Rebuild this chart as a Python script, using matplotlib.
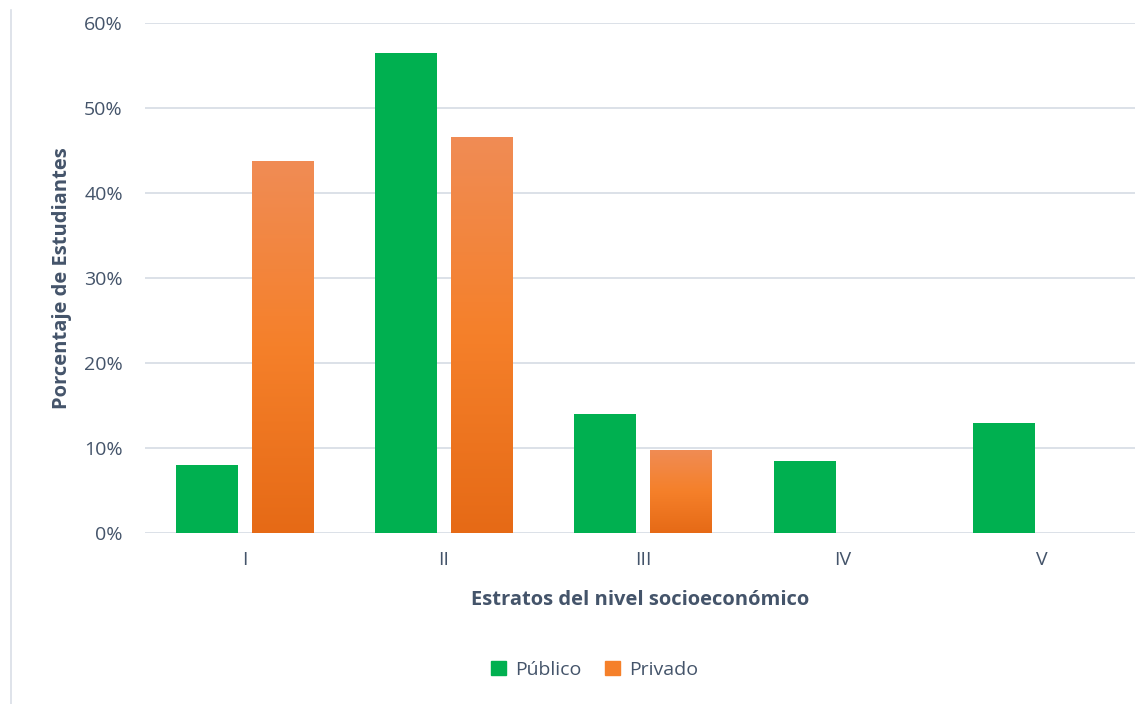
import matplotlib.pyplot as plt
import numpy as np
from matplotlib.colors import LinearSegmentedColormap
from matplotlib.patches import Rectangle
from matplotlib.lines import Line2D
from matplotlib.ticker import PercentFormatter

plt.rcParams['font.family'] = ['Open Sans', 'DejaVu Sans']

# share of students per socioeconomic stratum
estratos = ['I', 'II', 'III', 'IV', 'V']
publico = [0.080, 0.565, 0.140, 0.085, 0.130]
privado = [0.438, 0.466, 0.098, 0.0, 0.0]

text_col = '#44546A'
grid_col = '#D9DEE6'
green = '#00B050'
orange_grad = LinearSegmentedColormap.from_list('naranja', ['#E66A16', '#F5802A', '#F08C55'])

fig = plt.figure(figsize=(11.35, 7.04), dpi=100)
ax = fig.add_axes([145/1135, (704-533)/704, 990/1135, 510/704])

x = np.arange(len(estratos))
w = 0.31
off = 0.19

ax.bar(x - off, publico, w, color=green, zorder=3)

# orange bars drawn as a vertical gradient clipped to each bar
bars = ax.bar(x + off, privado, w, color='none', zorder=3)
grad = np.linspace(0, 1, 256).reshape(-1, 1)
for b, v in zip(bars, privado):
    if v <= 0:
        continue
    x0 = b.get_x()
    im = ax.imshow(grad, cmap=orange_grad, origin='lower', aspect='auto',
                   extent=[x0, x0 + w, 0, v], zorder=3)
    im.set_clip_path(b)

ax.set_xlim(-0.5, -0.5 + 990/199.3)
ax.set_ylim(0, 0.6)
ax.set_yticks(np.arange(0, 0.61, 0.1))
ax.yaxis.set_major_formatter(PercentFormatter(1.0, decimals=0))
ax.set_xticks(x)
ax.set_xticklabels(estratos)
ax.grid(axis='y', color=grid_col, linewidth=1.3, zorder=0)
ax.set_axisbelow(True)
for s in ax.spines.values():
    s.set_visible(False)
ax.tick_params(axis='both', length=0, colors=text_col, labelsize=14)
ax.tick_params(axis='y', pad=16)
ax.tick_params(axis='x', pad=13)

ax.set_ylabel('Porcentaje de Estudiantes', color=text_col, fontsize=14.5,
              fontweight='bold', labelpad=9)
ax.set_xlabel('Estratos del nivel socioeconómico', color=text_col, fontsize=14.5,
              fontweight='bold', labelpad=15)

handles = [Rectangle((0, 0), 1, 1, color=green),
           Rectangle((0, 0), 1, 1, color='#F5802A')]
fig.legend(handles, ['Público', 'Privado'], loc='center', bbox_to_anchor=(595/1135, 1 - 670/704),
           ncol=2, frameon=False, fontsize=14, labelcolor=text_col,
           handlelength=0.75, handleheight=0.75, handletextpad=0.5, columnspacing=1.2)

# left border of the chart area
fig.add_artist(Line2D([11/1135, 11/1135], [0, 1 - 10/704], color=grid_col, linewidth=1.2))

fig.savefig('out.png', dpi=100)
